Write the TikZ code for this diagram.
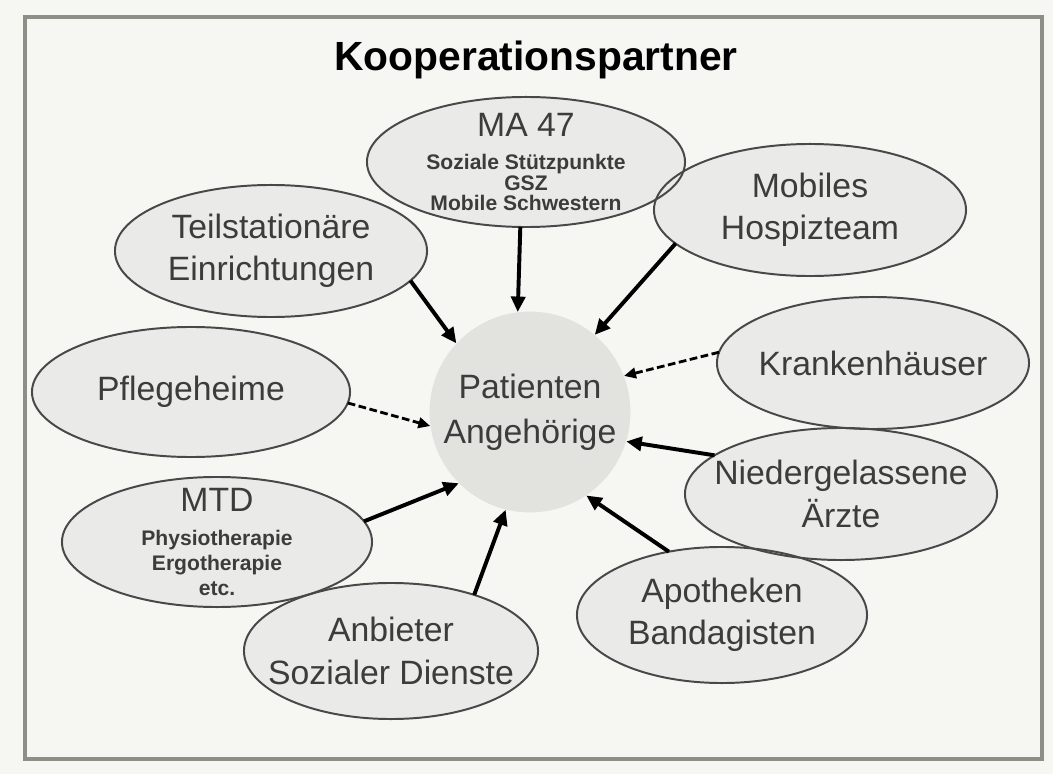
\documentclass[tikz,border=0pt]{standalone}
\usepackage{fontspec}
\setmainfont{Liberation Sans}
\usepackage{xcolor}
\usepackage{tikz}
\usetikzlibrary{positioning,shapes.geometric,arrows.meta,calc}

\definecolor{bgpaper}{HTML}{F6F6F3}
\definecolor{framegray}{HTML}{8E8E86}
\definecolor{ellfill}{HTML}{EAEAE8}
\definecolor{ellline}{HTML}{484848}
\definecolor{txtgray}{HTML}{3C3C3C}
\definecolor{patfill}{HTML}{E2E2DE}

\begin{document}
\begin{tikzpicture}[x=0.025cm,y=-0.025cm,
  partner/.style={ellipse,fill=ellfill,inner xsep=-30pt,inner ysep=-10pt,outer sep=0pt,
    minimum width=7.8cm,minimum height=3.3cm,text=txtgray,align=center,
    font=\fontsize{24}{30}\selectfont},
  smalltxt/.style={font=\fontsize{15}{14.5}\selectfont\bfseries},
  solidarrow/.style={-{Triangle[length=11pt,width=10pt]},line width=2.8pt},
  dashedarrow/.style={-{Triangle[length=8.5pt,width=7.5pt]},line width=2pt,dash pattern=on 5.5pt off 2.5pt}
]
\useasboundingbox (0,0) rectangle (1053,774);
\fill [bgpaper] (0,0) rectangle (1053,774);
\draw [framegray,line width=2.2pt] (25,17) rectangle (1042,759);

\node (title) at (536,60) {\fontsize{29}{34}\selectfont\bfseries Kooperationspartner};

\node [partner,smalltxt,minimum width=7.95cm,minimum height=3.25cm] (ma) at (526,162)
  {{\fontsize{24}{24}\selectfont\mdseries MA 47}\\[9pt]Soziale Stützpunkte\\GSZ\\Mobile Schwestern};
\node [partner] (mob) at (810,210) {Mobiles\\Hospizteam};
\node [partner] (teil) at (271,251) {Teilstationäre\\Einrichtungen};
\node [partner] (kh) at (873,363) {Krankenhäuser};
\node [partner,minimum width=7.95cm,minimum height=3.25cm] (pfl) at (191,392) {Pflegeheime};
\node [partner] (nied) at (841,494) {Niedergelassene\\Ärzte};
\node [partner,smalltxt,minimum width=7.75cm,minimum height=3.25cm,
  font=\fontsize{15}{18}\selectfont\bfseries] (mtd) at (217,542)
  {{\fontsize{24}{24}\selectfont\mdseries MTD}\\[6pt]Physiotherapie\\Ergotherapie\\etc.};
\node [partner,minimum width=7.35cm,minimum height=3.4cm] (anb) at (391,651) {Anbieter\\Sozialer Dienste};
\node [partner,minimum width=7.25cm,minimum height=3.4cm] (apo) at (722,615) {Apotheken\\Bandagisten};

\node [circle,fill=patfill,minimum size=4.85cm,text=txtgray,align=center,
  font=\fontsize{24}{32}\selectfont] (pat) at (530,412) {Patienten\\Angehörige};

% borders on top, so overlaps show both lines
\foreach \nd in {ma,mob,teil,kh,pfl,nied,mtd,anb,apo}
  \draw [ellline,line width=1.4pt] let \p1=(\nd.east), \p2=(\nd.north), \p3=(\nd.center)
    in (\p3) ellipse ({\x1-\x3} and {\y2-\y3});

\draw [solidarrow] (ma.265) -- (pat.97);
\draw [solidarrow] (mob.194) -- (pat.50);
\draw [solidarrow] (teil.348) -- (pat.137);
\draw [dashedarrow] (kh.176) -- (pat.21);
\draw [dashedarrow] (pfl.356) -- (pat.188);
\draw [solidarrow] (nied.163) -- (pat.343);
\draw [solidarrow] (mtd.8) -- (pat.225);
\draw [solidarrow] (anb.34) -- (pat.256);
\draw [solidarrow] (apo.130) -- (pat.304);
\end{tikzpicture}
\end{document}
